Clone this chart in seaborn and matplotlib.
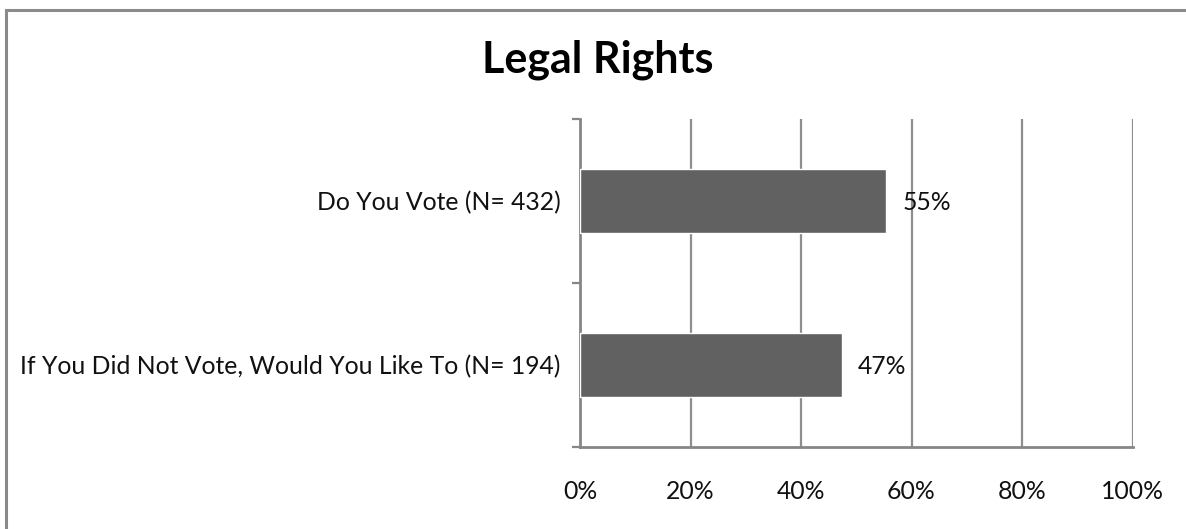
import matplotlib
matplotlib.use("Agg")
import matplotlib.pyplot as plt
from matplotlib.patches import Rectangle
from matplotlib.ticker import FixedLocator, PercentFormatter
import seaborn as sns
import pandas as pd

# Survey results
categories = [
    "Do You Vote (N= 432)",
    "If You Did Not Vote, Would You Like To (N= 194)",
]
values = [55.4, 47.4]
title = "Legal Rights"
x_ticks = [0, 20, 40, 60, 80, 100]

bar_color = "#616161"
axis_color = "#868686"
grid_color = "#8e8e8e"
text_color = "#111111"
label_size = 17.8

sns.set_theme(style="white")
plt.rcParams["font.family"] = ["Lato", "DejaVu Sans"]

df = pd.DataFrame({"category": categories, "value": values})

fig = plt.figure(figsize=(11.86, 5.29), dpi=100)
ax = fig.add_axes([580 / 1186, 1 - 447 / 529, 552.5 / 1186, 328 / 529])

sns.barplot(data=df, x="value", y="category", orient="h", color=bar_color,
            width=0.39, saturation=1, ax=ax, zorder=3)

ax.set_xlim(0, 100)
ax.set_ylim(1.5, -0.5)
ax.xaxis.set_major_locator(FixedLocator(x_ticks))
ax.xaxis.set_major_formatter(PercentFormatter(decimals=0))
ax.grid(axis="x", color=grid_color, linewidth=1.6, zorder=0)
ax.grid(axis="y", visible=False)
ax.set_xlabel("")
ax.set_ylabel("")

for side in ("top", "right"):
    ax.spines[side].set_visible(False)
for side in ("left", "bottom"):
    ax.spines[side].set_color(axis_color)
    ax.spines[side].set_linewidth(2)

# x ticks below the axis; y ticks at category boundaries
ax.tick_params(axis="x", which="major", direction="out", length=7, width=1.6,
               color=axis_color, labelsize=label_size, pad=17,
               labelcolor=text_color)
ax.set_yticks(range(len(categories)))
ax.set_yticklabels(categories)
ax.tick_params(axis="y", which="major", length=0, labelsize=label_size,
               pad=14, labelcolor=text_color)
ax.set_yticks([-0.5, 0.5, 1.5], minor=True)
ax.tick_params(axis="y", which="minor", direction="out", length=6, width=1.6,
               color=axis_color, left=True)

for i, v in enumerate(values):
    ax.text(v + 2.9, i + 0.01, f"{v:.0f}%", va="center", ha="left",
            fontsize=label_size, color=text_color, zorder=4)

fig.text(598 / 1186, 1 - 73 / 529, title, ha="center", va="baseline",
         fontsize=31, fontweight="bold", color="#000000")

# chart border (left and top edges visible)
fig.patches.append(Rectangle((6 / 1186, -0.05), 1.2, 1 - 10 / 529 + 0.05,
                             transform=fig.transFigure, fill=False,
                             edgecolor="#8a8a8a", linewidth=2.2))

fig.savefig("out.png", dpi=100, facecolor="white")
